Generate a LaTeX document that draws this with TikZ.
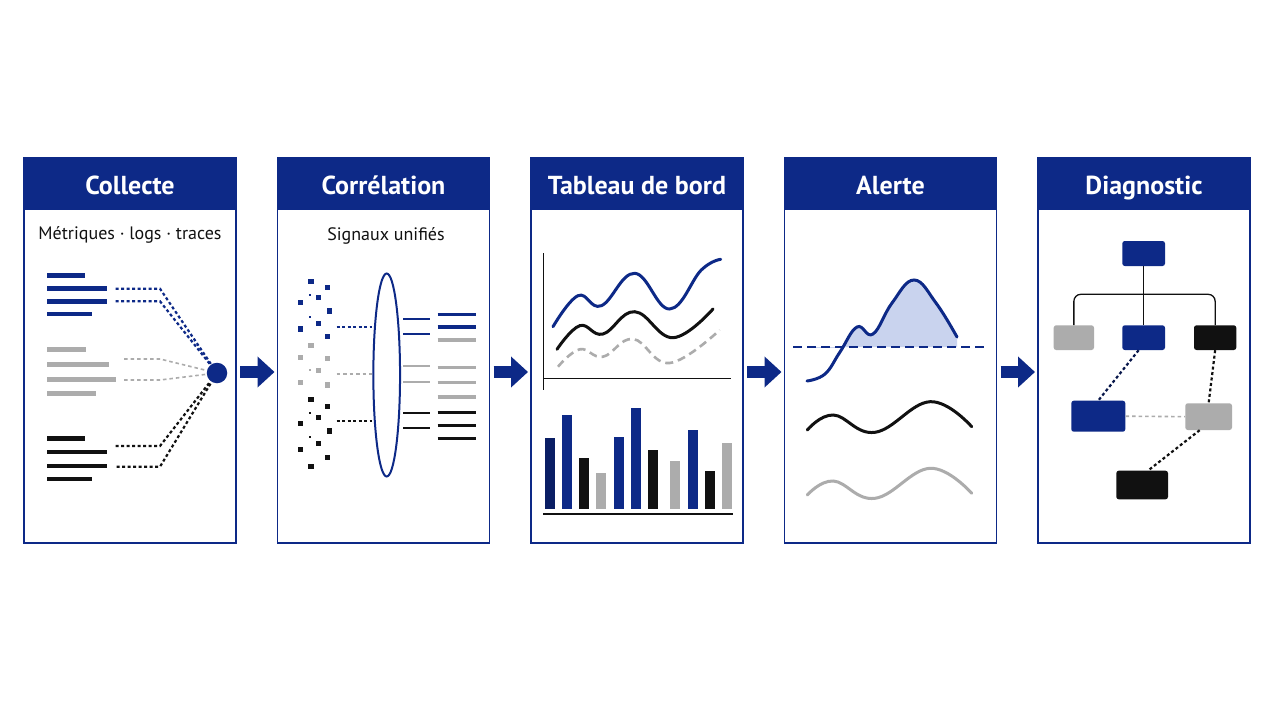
\documentclass[tikz,border=0pt]{standalone}
\usepackage{fontspec}
\setmainfont{PT Sans}
\usepackage{tikz}
\usetikzlibrary{positioning}
\usetikzlibrary{shapes.geometric}
\usetikzlibrary{arrows.meta}

\definecolor{navy}{RGB}{13,41,135}
\definecolor{darknavy}{RGB}{10,30,100}
\definecolor{signalgray}{RGB}{172,172,172}
\definecolor{ink}{RGB}{17,17,17}
\definecolor{peakfill}{RGB}{201,211,238}

\tikzset{panel/.style={rectangle, draw=navy, line width=1.4pt, minimum width=212pt, minimum height=385pt, inner sep=0pt, outer sep=0pt}}
\tikzset{header/.style={rectangle, fill=navy, text=white, minimum width=212pt, minimum height=52pt, inner sep=0pt, outer sep=0pt, text height=20pt, text depth=0pt, font=\bfseries\fontsize{26}{30}\selectfont}}
\tikzset{subtitle/.style={text=ink, inner sep=0pt, font=\fontsize{18}{21}\selectfont}}
\tikzset{flow/.style={navy, line width=12pt, -{Triangle[width=30pt,length=17pt]}, shorten <=4pt, shorten >=3pt}}

\begin{document}
\begin{tikzpicture}[x=1pt,y=-1pt]
\tikzstyle{bluedot} = [navy, line width=2.2pt, dash pattern=on 3pt off 2.5pt]
\tikzstyle{inkdot} = [ink, line width=2.2pt, dash pattern=on 3pt off 2.5pt]
\tikzstyle{graydash} = [signalgray, line width=1.6pt, dash pattern=on 3.5pt off 3pt]
\tikzstyle{diagbox} = [rectangle, rounded corners=2.5pt, inner sep=0pt]

\fill[white] (0,0) rectangle (1280,720);
\useasboundingbox (0,0) rectangle (1280,720);

% panels and headers
\node[panel] (P1) at (130,350.5) {};
\node[panel] (P2) [right = 41.5pt of P1] {};
\node[panel] (P3) [right = 41.5pt of P2] {};
\node[panel] (P4) [right = 41.5pt of P3] {};
\node[panel] (P5) [right = 41.5pt of P4] {};

\node[header] (H1) [below = 0pt of P1.north] {Collecte};
\node[header] (H2) [below = 0pt of P2.north] {Corrélation};
\node[header] (H3) [below = 0pt of P3.north] {Tableau de bord};
\node[header] (H4) [below = 0pt of P4.north] {Alerte};
\node[header] (H5) [below = 0pt of P5.north] {Diagnostic};

\foreach \a/\b in {P1/P2, P2/P3, P3/P4, P4/P5}
  \draw[flow] ([yshift=-21.5pt]\a.east) -- ([yshift=-21.5pt]\b.west);

% Collecte
\node[subtitle] (S1) at (130,235) {Métriques · logs · traces};
\foreach \y/\e in {275.7/85, 288.7/106.7, 301.3/106.7, 314/91.7}
  \draw[navy, line width=4.5pt] (47.3,\y) -- (\e,\y);
\foreach \y/\e in {349.7/86, 364.7/109.3, 379.7/116, 393.7/96}
  \draw[signalgray, line width=5pt] (47.3,\y) -- (\e,\y);
\foreach \y/\e in {438.3/85, 452/106.7, 466/106.7, 479/91.7}
  \draw[ink, line width=4.5pt] (47.3,\y) -- (\e,\y);

\node[circle, fill=navy, minimum size=20.5pt, inner sep=0pt] (hub) at (217,373) {};
\coordinate (m1) at (115.7,288.7);
\coordinate (m2) at (115.7,301.3);
\coordinate (l1) at (124,359);
\coordinate (l2) at (124,380);
\coordinate (t1) at (115.7,446);
\coordinate (t2) at (116.7,466.7);
\draw[bluedot] (m1) -- ++(44.3,0) -- (hub);
\draw[bluedot] (m2) -- ++(44.3,0) -- (hub);
\draw[graydash] (l1) -- ++(36,0) -- (hub);
\draw[graydash] (l2) -- ++(36,0) -- (hub);
\draw[inkdot] (t1) -- ++(44.3,0) -- (hub);
\draw[inkdot] (t2) -- ++(43.3,0) -- (hub);

% Correlation
\node[subtitle] (S2) at (386,235.7) {Signaux unifiés};
\foreach \x/\y in {311/281.7, 327.3/287.7, 318.7/297.7, 300.3/302.7, 329.3/311, 318.7/323.7, 300.3/329, 327.3/336.7}
  \fill[navy] (\x-2.6,\y-2.6) rectangle (\x+2.6,\y+2.6);
\foreach \x/\y in {311/345.7, 300.3/357.3, 327.3/358.3, 318.7/370.7, 300.3/382.3, 327.3/385}
  \fill[signalgray] (\x-2.6,\y-2.6) rectangle (\x+2.6,\y+2.6);
\foreach \x/\y in {311/399.3, 327.3/406.7, 318.7/417.7, 300.3/423.3, 329.3/431, 318.7/443.7, 300.3/449.7, 327.3/457.3, 311/466.7}
  \fill[ink] (\x-2.6,\y-2.6) rectangle (\x+2.6,\y+2.6);
\foreach \y/\c in {295/navy, 317/navy, 370/signalgray, 412.7/ink, 437/ink}
  \fill[\c] (308.7,\y-1.2) rectangle (310.7,\y+1.2);

\node[ellipse, draw=navy, line width=2pt, minimum width=26.7pt, minimum height=203pt, inner sep=0pt] (lens) at (386.7,375) {};
\coordinate (cb) at (336.7,327);
\coordinate (cg) at (336.7,374);
\coordinate (ck) at (336.7,421);
\draw[bluedot] (cb) -- (cb -| lens.west);
\draw[graydash] (cg) -- (cg -| lens.west);
\draw[inkdot] (ck) -- (ck -| lens.west);

\foreach \y/\c in {319/navy, 334/navy, 366.3/signalgray, 381.7/signalgray, 412.7/ink, 428.3/ink}
  \draw[\c, line width=2pt] (403.3,\y) -- (430,\y);
\foreach \y/\c in {314.3/navy, 327/navy, 340/signalgray, 367.7/signalgray, 382.7/signalgray, 397/signalgray, 412.7/ink, 425.7/ink, 438.3/ink}
  \draw[\c, line width=3.5pt] (437.7,\y) -- (475.7,\y);

% Tableau de bord
\draw[ink, line width=1.4pt] (543.7,253.3) -- (543.7,390);
\draw[ink, line width=1.4pt] (543.7,378.3) -- (731.3,378.3);
\draw[navy, line width=3pt, line cap=round] plot[smooth, tension=0.7] coordinates {(553,326.7) (578,295.7) (601.3,305.7) (634.7,273.3) (669.7,309) (701.3,270) (720.7,259.3)};
\draw[ink, line width=3pt, line cap=round] plot[smooth, tension=0.7] coordinates {(557,349.3) (579.7,325.7) (603,334) (634.7,311.7) (673,337.7) (713,309)};
\draw[signalgray, line width=2.6pt, dash pattern=on 8pt off 5pt] plot[smooth, tension=0.7] coordinates {(558,366.7) (579.7,349.3) (603,356.7) (633,339) (669.7,363) (719.7,330)};

\foreach \x/\t/\c in {544.7/438.3/darknavy, 562.3/415/navy, 579/457.7/ink, 596.3/472.7/signalgray, 614/437/navy, 631.3/408.3/navy, 648/450/ink, 670.3/461/signalgray, 688/430/navy, 704.7/471/ink, 722/442.7/signalgray}
  \fill[\c] (\x,\t) rectangle (\x+10,509);
\draw[ink, line width=1.5pt] (543,514) -- (733,514);

% Alerte
\begin{scope}
\clip (793,250) rectangle (985,347);
\fill[peakfill] plot[smooth, tension=0.7] coordinates {(807,381) (825,374) (840,352) (857,327) (873,334) (892,303) (914,280) (936,303) (957,337)} -- (957,347) -- (807,347) -- cycle;
\end{scope}
\draw[navy, line width=2.2pt, dash pattern=on 9pt off 5pt] (793.3,347) -- (985,347);
\draw[navy, line width=3pt, line cap=round] plot[smooth, tension=0.7] coordinates {(807,381) (825,374) (840,352) (857,327) (873,334) (892,303) (914,280) (936,303) (957,337)};
\draw[ink, line width=3pt, line cap=round] plot[smooth, tension=0.7] coordinates {(807.3,430) (833.3,415) (875,432.3) (930,401.7) (971.7,426.7)};
\draw[signalgray, line width=3pt, line cap=round] plot[smooth, tension=0.7] coordinates {(807.3,495) (833.3,481) (875,498.3) (930,468.3) (971.7,493.3)};

% Diagnostic
\node[diagbox, fill=navy, minimum width=42.7pt, minimum height=25pt] (root) at (1143.65,253.5) {};
\node[diagbox, fill=signalgray, minimum width=40.3pt, minimum height=24.7pt] (leafA) at (1073.85,337.65) {};
\node[diagbox, fill=navy, minimum width=42.7pt, minimum height=24.7pt] (leafB) at (1143.65,337.65) {};
\node[diagbox, fill=ink, minimum width=42.3pt, minimum height=24.7pt] (leafC) at (1215.15,337.65) {};
\node[diagbox, fill=navy, minimum width=54pt, minimum height=31pt] (causeA) at (1098.3,416.2) {};
\node[diagbox, fill=signalgray, minimum width=46.7pt, minimum height=26.7pt] (causeB) at (1208.65,416.65) {};
\node[diagbox, fill=ink, minimum width=51.7pt, minimum height=28.6pt] (origin) at (1142.15,485) {};

\coordinate (fork) at (1143.65,294.3);
\draw[ink, line width=1.3pt] (root.south) -- (leafB.north);
\draw[ink, line width=1.3pt, rounded corners=7pt] (leafA.north) -- (leafA.north |- fork) -- (leafC.north |- fork) -- (leafC.north);
\draw[inkdot, navy!55!black] ([xshift=-5pt]leafB.south) -- (causeA.north);
\draw[inkdot] (leafC.south) -- (causeB.north);
\draw[graydash] (causeA.east) -- (causeB.west);
\draw[inkdot] ([xshift=-9pt]causeB.south) -- ([xshift=6pt]origin.north);
\end{tikzpicture}
\end{document}
